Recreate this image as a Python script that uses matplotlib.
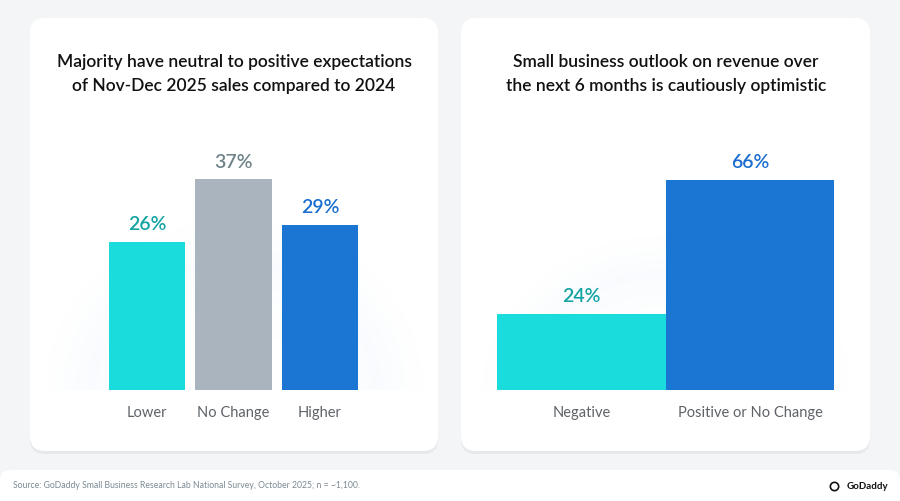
import matplotlib.pyplot as plt
from matplotlib.patches import FancyBboxPatch
import numpy as np

# data
left_title = "Majority have neutral to positive expectations\nof Nov-Dec 2025 sales compared to 2024"
left_categories = ["Lower", "No Change", "Higher"]
left_values = [26, 37, 29]

right_title = "Small business outlook on revenue over\nthe next 6 months is cautiously optimistic"
right_categories = ["Negative", "Positive or No Change"]
right_values = [24, 66]

source_text = "Source: GoDaddy Small Business Research Lab National Survey, October 2025; n = ~1,100."

# colours
CYAN, GREY, BLUE = "#1bdcdc", "#a9b4bf", "#1b76d3"
left_colors = [CYAN, GREY, BLUE]
left_label_colors = ["#14a3a3", "#6f8388", "#1a6fd1"]
right_colors = [CYAN, BLUE]
right_label_colors = ["#14a3a3", "#1a6fd1"]

plt.rcParams['font.family'] = ['Lato', 'DejaVu Sans']

W, H = 900, 502
fig = plt.figure(figsize=(W / 100, H / 100), dpi=100)
fig.patch.set_facecolor("#f4f5f7")

# background layer in pixel coordinates
bg = fig.add_axes([0, 0, 1, 1], zorder=0)
bg.set_xlim(0, W)
bg.set_ylim(H, 0)
bg.axis("off")


def card(x0, y0, x1, y1):
    shadow = FancyBboxPatch((x0, y0 + 3), x1 - x0, y1 - y0, boxstyle="round,pad=0,rounding_size=15",
                            facecolor="#e6e8ec", edgecolor="none", zorder=1)
    bg.add_patch(shadow)
    box = FancyBboxPatch((x0, y0), x1 - x0, y1 - y0, boxstyle="round,pad=0,rounding_size=15",
                         facecolor="white", edgecolor="none", zorder=2)
    bg.add_patch(box)


def glow(cx, base, rx, ry, x0, x1):
    # soft bluish halo behind the bars, clipped at the baseline
    xs = np.arange(x0, x1)
    ys = np.arange(base - ry, base)
    X, Y = np.meshgrid(xs, ys)
    r = np.sqrt(((X - cx) / rx) ** 2 + ((Y - base) / ry) ** 2)
    a = 0.09 * np.exp(-((r - 0.75) / 0.22) ** 2) * np.clip((1.0 - r) / 0.25, 0, 1)
    img = np.zeros(X.shape + (4,))
    img[..., 0], img[..., 1], img[..., 2] = 0.78, 0.86, 0.97
    img[..., 3] = a
    bg.imshow(img, extent=(x0, x1, base, base - ry), zorder=3, interpolation="bilinear")


card(30, 19, 438, 452)
card(461, 19, 870, 452)
glow(234, 391, 195, 175, 45, 423)
glow(666, 391, 190, 160, 478, 855)
bg.set_xlim(0, W)
bg.set_ylim(H, 0)

# footer strip
bg.add_patch(FancyBboxPatch((0, 471), W, 40, boxstyle="round,pad=0,rounding_size=10",
                            facecolor="white", edgecolor="none", zorder=2))
bg.text(13, 486, source_text, fontsize=6.2, color="#7b8a93", va="center", ha="left", zorder=5)
bg.text(888, 487, "GoDaddy", fontsize=7, color="#111111", fontweight="bold", va="center", ha="right", zorder=5)
bg.plot([834], [487], marker="o", markersize=6, markerfacecolor="none", markeredgecolor="#111111",
        markeredgewidth=1.2, zorder=5)

# titles
bg.text(234, 74, left_title, fontsize=12.5, color="#111111", ha="center", va="center",
        linespacing=1.55, fontweight="semibold", zorder=5)
bg.text(666, 74, right_title, fontsize=12.5, color="#111111", ha="center", va="center",
        linespacing=1.55, fontweight="semibold", zorder=5)


def px_axes(left, right, top, bottom):
    return fig.add_axes([left / W, 1 - bottom / H, (right - left) / W, (bottom - top) / H], zorder=2)


def style(ax):
    ax.patch.set_alpha(0)
    for s in ax.spines.values():
        s.set_visible(False)
    ax.tick_params(left=False, bottom=False, labelleft=False)
    ax.tick_params(axis="x", labelsize=10.5, labelcolor="#5f6368", pad=7)


# left chart
axl = px_axes(60.5, 406.5, 130, 391)
bars = axl.bar(np.arange(len(left_values)), left_values, width=0.89, color=left_colors)
axl.set_xlim(-1, 3)
axl.set_ylim(0, 261 / 5.69)
axl.set_xticks(np.arange(len(left_categories)))
axl.set_xticklabels(left_categories)
style(axl)
for b, v, c in zip(bars, left_values, left_label_colors):
    axl.annotate(f"{v}%", (b.get_x() + b.get_width() / 2, b.get_height()), xytext=(0, 7),
                 textcoords="offset points", ha="center", va="bottom", fontsize=14,
                 color=c, fontweight="semibold")

# right chart
axr = px_axes(480.4, 851.1, 130, 391)
bars = axr.bar(np.arange(len(right_values)), right_values, width=1.0, color=right_colors)
axr.set_xlim(-0.6, 1.6)
axr.set_ylim(0, 261 / 3.18)
axr.set_xticks(np.arange(len(right_categories)))
axr.set_xticklabels(right_categories)
style(axr)
for b, v, c in zip(bars, right_values, right_label_colors):
    axr.annotate(f"{v}%", (b.get_x() + b.get_width() / 2, b.get_height()), xytext=(0, 7),
                 textcoords="offset points", ha="center", va="bottom", fontsize=14,
                 color=c, fontweight="semibold")

fig.savefig("out.png", dpi=100, facecolor=fig.get_facecolor())
